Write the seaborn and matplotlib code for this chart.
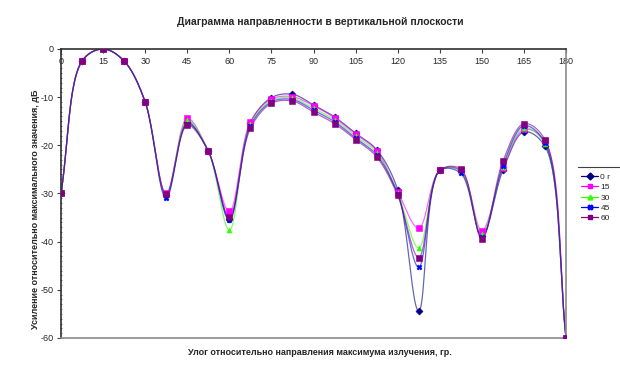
import numpy as np
import pandas as pd
import matplotlib
matplotlib.use("Agg")
import matplotlib.pyplot as plt
from matplotlib.lines import Line2D
from matplotlib.ticker import MultipleLocator
import seaborn as sns

# angle, deg (every 7.5)
angles = [0, 7.5, 15, 22.5, 30, 37.5, 45, 52.5, 60, 67.5, 75, 82.5, 90,
          97.5, 105, 112.5, 120, 127.5, 135, 142.5, 150, 157.5, 165, 172.5, 180]

# gain relative to max, dB
g0 = [-30, -2.5, 0, -2.5, -11, -30.3, -15.2, -21.2, -35.2, -15.4, -10.1, -9.4, -11.6,
      -14.1, -17.5, -20.9, -29.2, -54.4, -25.2, -25.3, -38.9, -25.2, -17.2, -20.2, -60]
g15 = [-30, -2.5, 0, -2.5, -11, -30.0, -14.4, -21.2, -33.7, -15.1, -10.4, -9.9, -11.8,
       -14.3, -17.7, -21.1, -29.6, -37.2, -25.2, -25.2, -37.7, -24.8, -16.7, -19.2, -60]
g30 = [-30, -2.5, 0, -2.5, -11, -30.5, -14.8, -21.2, -37.6, -15.6, -10.7, -10.2, -12.3,
       -14.7, -18.1, -21.5, -29.9, -41.3, -25.2, -25.4, -38.4, -24.5, -16.3, -19.8, -60]
g45 = [-30, -2.5, 0, -2.5, -11, -31.0, -15.5, -21.2, -35.6, -16.0, -11.0, -10.5, -12.7,
       -15.1, -18.5, -22.0, -30.1, -45.3, -25.2, -25.8, -39.0, -24.2, -15.9, -19.5, -60]
g60 = [-30, -2.5, 0, -2.5, -11, -30.2, -15.8, -21.2, -34.8, -16.5, -11.3, -10.8, -13.1,
       -15.5, -18.8, -22.4, -30.4, -43.3, -25.2, -24.9, -39.4, -23.3, -15.5, -18.8, -60]

labels = ["0 г", "15", "30", "45", "60"]
series = [g0, g15, g30, g45, g60]
colors = ["#000080", "#FF00FF", "#33FF00", "#0000FF", "#800080"]
markers = ["D", "s", "^", "X", "s"]


def smooth(x, y, n=20, sx=2.8, sy=4.8):
    # centripetal Catmull-Rom path through the points (like Excel "smoothed line"),
    # computed in roughly pixel-scaled space so it doesn't overshoot
    P = np.column_stack([np.asarray(x, float) * sx, np.asarray(y, float) * sy])
    P = np.vstack([2 * P[0] - P[1], P, 2 * P[-1] - P[-2]])
    out = []
    for i in range(1, len(P) - 2):
        p0, p1, p2, p3 = P[i - 1], P[i], P[i + 1], P[i + 2]
        t0 = 0.0
        t1 = t0 + np.linalg.norm(p1 - p0) ** 0.5
        t2 = t1 + np.linalg.norm(p2 - p1) ** 0.5
        t3 = t2 + np.linalg.norm(p3 - p2) ** 0.5
        t = np.linspace(t1, t2, n, endpoint=False)[:, None]
        a1 = (t1 - t) / (t1 - t0) * p0 + (t - t0) / (t1 - t0) * p1
        a2 = (t2 - t) / (t2 - t1) * p1 + (t - t1) / (t2 - t1) * p2
        a3 = (t3 - t) / (t3 - t2) * p2 + (t - t2) / (t3 - t2) * p3
        b1 = (t2 - t) / (t2 - t0) * a1 + (t - t0) / (t2 - t0) * a2
        b2 = (t3 - t) / (t3 - t1) * a2 + (t - t1) / (t3 - t1) * a3
        out.append((t2 - t) / (t2 - t1) * b1 + (t - t1) / (t2 - t1) * b2)
    out.append(P[-2][None, :])
    out = np.vstack(out)
    return out[:, 0] / sx, out[:, 1] / sy


sns.set_style("white")
plt.rcParams["font.family"] = ["Liberation Sans", "DejaVu Sans"]
plt.rcParams["axes.unicode_minus"] = False

fig = plt.figure(figsize=(6.2, 3.74), dpi=100)
ax = fig.add_axes([0.0984, 0.0963, 0.8145, 0.7727])

handles = []
for lab, vals, col, mk in zip(labels, series, colors, markers):
    sx, sy = smooth(angles, vals)
    sns.lineplot(x=sx, y=sy, ax=ax, color=col, lw=0.9, alpha=0.6, sort=False)
    sns.scatterplot(x=angles, y=vals, ax=ax, color=col, marker=mk, s=13,
                    edgecolor=col, linewidth=0.4, zorder=3)
    handles.append(Line2D([], [], color=col, lw=0.9, marker=mk, ms=3.5, mec=col))

ax.set_xlim(0, 180)
ax.set_ylim(-60, 0)
ax.set_xticks(range(0, 181, 15))
ax.yaxis.set_major_locator(MultipleLocator(10))
ax.yaxis.set_minor_locator(MultipleLocator(1))
ax.xaxis.tick_top()
ax.tick_params(axis="x", top=True, bottom=False, labeltop=True, labelbottom=False,
               direction="in", length=3, pad=-12, labelsize=6.5, color="#404040")
ax.tick_params(axis="y", which="major", left=True, direction="out", length=3,
               labelsize=6.5, pad=2, color="#404040")
ax.tick_params(axis="y", which="minor", left=True, direction="inout", length=2,
               width=0.6, color="#606060")

for side in ["top", "left"]:
    ax.spines[side].set_color("#303030")
    ax.spines[side].set_linewidth(1.2)
for side in ["right", "bottom"]:
    ax.spines[side].set_color("#8a8a8a")
    ax.spines[side].set_linewidth(1.2)

fig.text(0.516, 0.94, "Диаграмма направленности в вертикальной плоскости",
         ha="center", va="center", fontsize=7.5, fontweight="bold")
fig.text(0.516, 0.058, "Улог относительно направления максимума излучения, гр.",
         ha="center", va="center", fontsize=6.5, fontweight="bold")
fig.text(0.057, 0.44, "Усиление относительно максимального значения, дБ",
         ha="center", va="center", rotation=90, fontsize=6.5, fontweight="bold")

leg = fig.legend(handles, labels, loc="upper left", bbox_to_anchor=(0.928, 0.553),
                 fontsize=6, frameon=False, handlelength=2.0,
                 handletextpad=0.3, labelspacing=0.3, borderpad=0.2)
fig.add_artist(Line2D([0.932, 1.0], [0.553, 0.553], transform=fig.transFigure,
                      color="#404040", lw=0.8))

fig.savefig("out.png", dpi=100)
